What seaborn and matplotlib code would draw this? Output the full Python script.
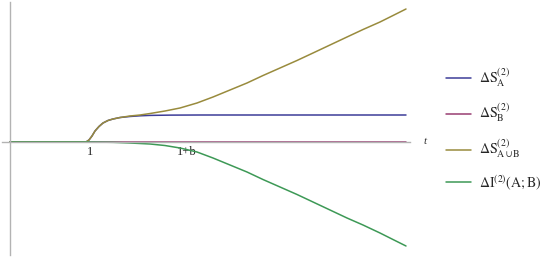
import pandas as pd
import matplotlib.pyplot as plt
import seaborn as sns

# === Curves (t, value; tick on y marks 1 unit) ===
t_a = [0, 0.95, 0.9875, 1.025, 1.0625, 1.1125, 1.1625, 1.225, 1.2875, 1.375,
       1.5, 1.625, 1.75, 2.0, 2.375, 3.0, 4.0, 4.95]
s_a = [0, 0, 0.25, 0.75, 1.375, 1.94, 2.375, 2.69, 2.875, 3.06,
       3.19, 3.275, 3.325, 3.36, 3.375, 3.375, 3.375, 3.375]

t_b = [0, 4.95]
s_b = [0, 0]

t_ab = [0, 0.95, 0.9875, 1.025, 1.0625, 1.1125, 1.1625, 1.225, 1.2875, 1.375,
        1.5, 1.625, 1.75, 1.9375, 2.125, 2.3375, 2.5375, 2.75, 2.9625, 3.1625,
        3.375, 3.5875, 3.7875, 4.0, 4.2125, 4.4125, 4.625, 4.7875, 4.95]
s_ab = [0, 0, 0.25, 0.75, 1.375, 1.94, 2.375, 2.69, 2.875, 3.06,
        3.25, 3.375, 3.56, 3.875, 4.25, 4.875, 5.625, 6.5, 7.375, 8.31,
        9.25, 10.19, 11.125, 12.125, 13.125, 14.06, 15.0, 15.81, 16.625]

t_i = [0, 1.0, 1.2875, 1.5, 1.75, 1.9375, 2.125, 2.3375, 2.5375, 2.75, 2.9625,
       3.1625, 3.375, 3.5875, 3.7875, 4.0, 4.2125, 4.4125, 4.625, 4.7875, 4.95]
i_ab = [0, 0, -0.04, -0.125, -0.25, -0.44, -0.75, -1.25, -2.0, -2.875, -3.75,
        -4.69, -5.625, -6.56, -7.5, -8.5, -9.5, -10.375, -11.375, -12.19, -13.0]

x_ticks = [1, 2.2125]
x_tick_labels = ["1", "1+b"]
y_ticks = [1]

labels = [r"$\Delta\mathrm{S}_{\mathrm{A}}^{(2)}$",
          r"$\Delta\mathrm{S}_{\mathrm{B}}^{(2)}$",
          r"$\Delta\mathrm{S}_{\mathrm{A\cup B}}^{(2)}$",
          r"$\Delta\mathrm{I}^{(2)}(\mathrm{A;B})$"]
colors = [(0.24, 0.24, 0.6), (0.6, 0.24, 0.4428),
          (0.6, 0.547, 0.24), (0.24, 0.6, 0.33692)]

sns.set_style("white")
plt.rcParams["font.family"] = ["Liberation Serif", "DejaVu Serif"]
plt.rcParams["mathtext.fontset"] = "stix"

fig = plt.figure(figsize=(5.45, 2.58), dpi=100)
ax = fig.add_axes([2 / 545, 3 / 258, 408 / 545, 253 / 258])

series = [(t_a, s_a), (t_b, s_b), (t_ab, s_ab), (t_i, i_ab)]
for (tt, yy), lab, col in zip(series, labels, colors):
    df = pd.DataFrame({"t": tt, "v": yy})
    sns.lineplot(data=df, x="t", y="v", ax=ax, color=col, lw=1.1, label=lab,
                 sort=False)

ax.set_xlim(-0.1, 5.0)
ax.set_ylim(-14.125, 17.5)

# Mathematica-style axes through the origin
for side in ["top", "right"]:
    ax.spines[side].set_visible(False)
ax.spines["left"].set_position(("data", 0))
ax.spines["bottom"].set_position(("data", 0))
for side in ["left", "bottom"]:
    ax.spines[side].set_color("#b3b3b3")
    ax.spines[side].set_linewidth(1.0)

ax.set_xticks(x_ticks)
ax.set_xticklabels(x_tick_labels)
ax.set_yticks(y_ticks)
ax.set_yticklabels([""])
ax.tick_params(axis="both", direction="in", length=3, width=0.8,
               color="#9a9a9a", labelsize=9, labelcolor="#222222", pad=3)
ax.set_xlabel("")
ax.set_ylabel("")
ax.text(1.037, 0.0, "t", transform=ax.get_yaxis_transform(), fontsize=8,
        style="italic", ha="center", va="center", color="#333333")

ax.legend(loc="center left", bbox_to_anchor=(436 / 545, 0.5),
          bbox_transform=fig.transFigure, frameon=False, fontsize=10,
          handlelength=1.8, handletextpad=0.6, labelspacing=0.95,
          borderpad=0.2)

fig.savefig("out.png", dpi=100)
